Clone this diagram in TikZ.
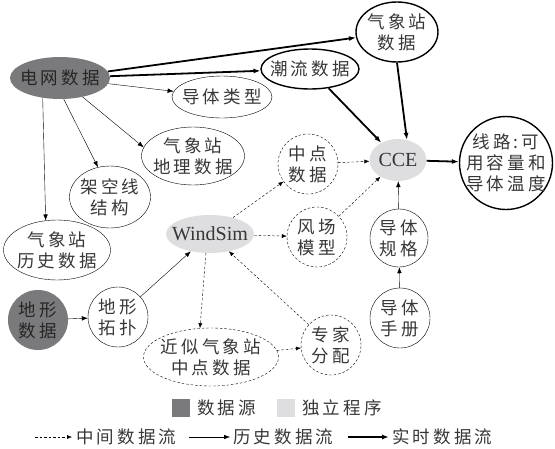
\documentclass[tikz,border=0pt]{standalone}
\usepackage{fontspec}
\setmainfont{Liberation Serif}
\newfontfamily\cjk[LetterSpace=18]{Noto Sans CJK SC}
\usetikzlibrary{shapes.geometric,arrows.meta}
\definecolor{srcgray}{RGB}{122,122,124}
\definecolor{appgray}{RGB}{222,222,224}
\definecolor{inkgray}{RGB}{55,55,55}
\tikzset{
  box/.style={ellipse,draw,thin,inner xsep=-7pt,inner ysep=0pt,align=center,text=inkgray,
    font=\cjk\fontsize{17.5}{21}\selectfont},
  live box/.style={box,line width=1.4pt},
  mid box/.style={box,dash pattern=on 2.5pt off 2pt},
  src/.style={box,draw=none,fill=srcgray,text=black!85},
  app/.style={box,draw=none,fill=appgray,font=\rmfamily\fontsize{20}{24}\selectfont},
  keytext/.style={anchor=west,inner sep=0pt,text=inkgray,font=\cjk\fontsize{17.5}{21}\selectfont},
  hist/.style={-{Latex[length=6pt,width=4.5pt]},thin},
  live/.style={-{Latex[length=7pt,width=5pt]},line width=1.8pt},
  inter/.style={-{Latex[length=5pt,width=4pt]},thin,dash pattern=on 2.5pt off 2pt},
}

\begin{document}
\begin{tikzpicture}[x=1pt,y=-1pt]
    \useasboundingbox (0,0) rectangle (555,448);

    % data sources and programs
    \node[src,minimum width=100pt,minimum height=42pt] (grid) at (60,78) {电网数据};
    \node[src,minimum size=60pt] (terrain) at (38,320) {地形\\数据};
    \node[app,minimum width=88pt,minimum height=38pt] (wind) at (210,234) {WindSim};
    \node[app,minimum width=57pt,minimum height=42pt] (cce) at (398,160) {CCE};

    % real-time data
    \node[live box,minimum width=82pt,minimum height=60pt] (wsta) at (397,32) {气象站\\数据};
    \node[live box,minimum width=98pt,minimum height=40pt] (flow) at (310,69) {潮流数据};
    \node[live box,minimum size=93pt] (out) at (506,163) {线路:可\\用容量和\\导体温度};

    % historical data
    \node[box,minimum width=100pt,minimum height=42pt] (ctype) at (222,97) {导体类型};
    \node[box,minimum width=103pt,minimum height=58pt] (geo) at (193,156) {气象站\\地理数据};
    \node[box,minimum width=81pt,minimum height=62pt] (ohl) at (110,197) {架空线\\结构};
    \node[box,minimum width=107pt,minimum height=60pt] (whist) at (57,250) {气象站\\历史数据};
    \node[box,minimum size=60pt] (topo) at (118,317) {地形\\拓扑};
    \node[box,minimum size=58pt] (spec) at (399,238) {导体\\规格};
    \node[box,minimum size=60pt] (manual) at (400,318) {导体\\手册};

    % intermediate data
    \node[mid box,minimum size=60pt] (midpt) at (308,164) {中点\\数据};
    \node[mid box,minimum size=60pt] (wfm) at (317,237) {风场\\模型};
    \node[mid box,minimum width=135pt,minimum height=58pt] (approx) at (211,357) {近似气象站\\中点数据};
    \node[mid box,minimum size=60pt] (expert) at (331,345) {专家\\分配};

    \draw[live] (grid) -- (wsta);
    \draw[live] (grid) -- (flow);
    \draw[live] (flow) -- (cce);
    \draw[live] (wsta.south) -- (cce.66);
    \draw[live] (cce) -- (out);

    \draw[hist] (grid) -- (ctype);
    \draw[hist] (grid.-40) -- (geo.170);
    \draw[hist] (grid.-80) -- (ohl.112);
    \draw[hist] (grid.229) -- (whist.111);
    \draw[hist] (terrain) -- (topo);
    \draw[hist] (topo) -- (wind);
    \draw[hist] (manual) -- (spec);
    \draw[hist] (spec) -- (cce);

    \draw[inter] (wind) -- (midpt);
    \draw[inter] (wind) -- (wfm);
    \draw[inter] (wind.258) -- (approx.111);
    \draw[inter] (approx) -- (expert);
    \draw[inter] (expert) -- (wind);
    \draw[inter] (midpt) -- (cce);
    \draw[inter] (wfm) -- (cce);

    % legend
    \node[fill=srcgray,minimum size=18pt,inner sep=0pt] (srckey) at (181,408) {};
    \node[keytext] (srclabel) at (197,408) {数据源};
    \node[fill=appgray,minimum size=18pt,inner sep=0pt] (appkey) at (286,408) {};
    \node[keytext] (applabel) at (302,408) {独立程序};
    \coordinate (inter0) at (35,437);
    \coordinate (inter1) at (72,437);
    \coordinate (hist0) at (189,437);
    \coordinate (hist1) at (230,437);
    \coordinate (live0) at (348,437);
    \coordinate (live1) at (389,437);
    \draw[inter] (inter0) -- (inter1);
    \draw[hist] (hist0) -- (hist1);
    \draw[live] (live0) -- (live1);
    \node[keytext] (interlabel) at (76,437) {中间数据流};
    \node[keytext] (histlabel) at (233,437) {历史数据流};
    \node[keytext] (livelabel) at (392,437) {实时数据流};
\end{tikzpicture}
\end{document}
